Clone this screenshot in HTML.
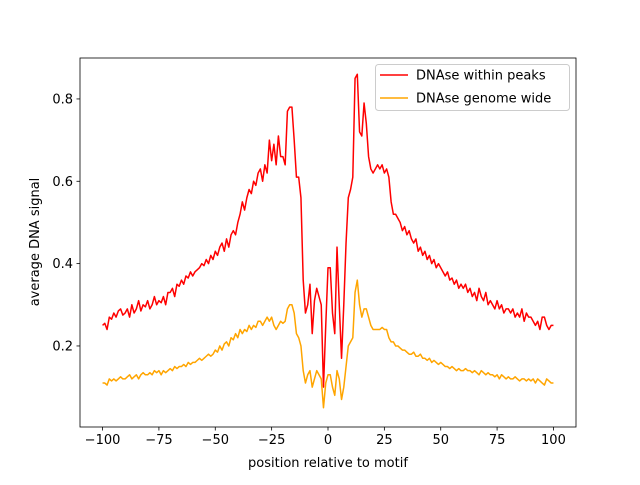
<!DOCTYPE html>
<html><head><meta charset="utf-8"><style>
body{margin:0;background:#fff}
svg text{font-family:"DejaVu Sans","Liberation Sans",sans-serif;font-size:13px;fill:#000}
</style></head><body>
<svg id="chart" width="640" height="480">
<rect width="640" height="480" fill="#fff"/>
<g id="plot"></g>
</svg>
<script>
const xTicks=[-100,-75,-50,-25,0,25,50,75,100];
const yTicks=[0.2,0.4,0.6,0.8];
const withinPeaks=[.25,.255,.24,.27,.265,.28,.27,.285,.29,.275,
.28,.29,.27,.30,.28,.29,.31,.285,.30,.295,
.31,.29,.30,.32,.30,.31,.305,.32,.30,.33,
.33,.34,.32,.35,.345,.36,.35,.37,.365,.38,
.37,.38,.385,.39,.40,.395,.41,.40,.42,.41,
.43,.42,.44,.45,.43,.46,.44,.47,.48,.47,
.50,.52,.55,.53,.56,.58,.57,.60,.59,.62,
.63,.60,.64,.62,.70,.65,.69,.64,.71,.66,
.66,.64,.77,.78,.78,.70,.61,.61,.56,.36,
.28,.30,.35,.23,.31,.34,.32,.30,.10,.25,
.39,.39,.28,.23,.44,.30,.17,.30,.45,.56,
.58,.61,.85,.86,.72,.71,.79,.74,.66,.63,
.62,.63,.64,.63,.64,.62,.63,.61,.55,.52,
.52,.51,.50,.48,.49,.47,.48,.46,.45,.46,
.43,.44,.42,.43,.41,.42,.40,.41,.39,.40,
.39,.38,.37,.38,.36,.365,.35,.36,.34,.35,
.34,.35,.33,.34,.32,.33,.31,.34,.32,.31,
.33,.30,.31,.30,.29,.31,.29,.30,.28,.29,
.29,.28,.29,.27,.28,.27,.29,.26,.28,.27,
.27,.26,.25,.26,.24,.27,.27,.25,.24,.25,.25];
const genomeWide=[.11,.11,.105,.12,.115,.12,.115,.12,.125,.12,
.12,.125,.13,.12,.125,.13,.12,.13,.135,.13,
.13,.135,.13,.14,.135,.14,.13,.14,.135,.14,
.145,.14,.15,.145,.15,.15,.155,.15,.16,.155,
.16,.16,.165,.17,.165,.17,.175,.18,.175,.18,
.19,.185,.20,.19,.205,.21,.20,.22,.215,.23,
.22,.24,.23,.24,.235,.25,.24,.25,.245,.26,
.26,.25,.26,.27,.26,.27,.25,.24,.25,.26,
.255,.26,.29,.30,.30,.28,.23,.22,.20,.14,
.11,.13,.14,.10,.12,.14,.13,.12,.05,.11,
.13,.13,.10,.08,.14,.12,.07,.10,.15,.20,
.21,.22,.33,.36,.30,.27,.29,.29,.27,.25,
.24,.24,.24,.24,.245,.24,.24,.22,.21,.21,
.20,.20,.195,.19,.19,.185,.18,.18,.185,.175,
.175,.18,.17,.17,.165,.17,.16,.165,.16,.155,
.16,.155,.15,.15,.145,.15,.145,.14,.145,.14,
.14,.145,.14,.14,.135,.14,.135,.13,.14,.135,
.13,.135,.13,.13,.125,.13,.12,.13,.125,.12,
.125,.12,.12,.125,.12,.115,.12,.12,.115,.12,
.115,.12,.11,.12,.115,.11,.105,.12,.115,.11,.11];
const xStart=-100;
const L=80,R=576,T=58,B=427;
const X=v=>L+(v+110)/220*(R-L);
const Y=v=>428.3-v*411.7;
const NS="http://www.w3.org/2000/svg";
const g=document.getElementById('plot');
function mk(tag,attrs,parent){const e=document.createElementNS(NS,tag);for(const k in attrs)e.setAttribute(k,attrs[k]);(parent||g).appendChild(e);return e;}
function series(arr,color,name){
  const pts=arr.map((v,i)=>X(xStart+i).toFixed(2)+','+Y(v).toFixed(2)).join(' ');
  const p=mk('polyline',{points:pts,fill:'none',stroke:color,'stroke-width':1.5,'stroke-linejoin':'round'});
  
  
}
series(withinPeaks,'#ff0000','line-within-peaks');
series(genomeWide,'#ffa500','line-genome-wide');
const frame=mk('rect',{x:L,y:T,width:R-L,height:B-T,fill:'none',stroke:'#000','stroke-width':0.8});


xTicks.forEach(t=>{
  mk('line',{x1:X(t),x2:X(t),y1:B,y2:B+3.5,stroke:'#000','stroke-width':0.8});
  const tx=mk('text',{x:X(t),y:B+17,'text-anchor':'middle'});tx.textContent=(t<0?'\u2212'+(-t):t);
  
  
});
yTicks.forEach(t=>{
  mk('line',{x1:L-3.5,x2:L,y1:Y(t),y2:Y(t),stroke:'#000','stroke-width':0.8});
  const tx=mk('text',{x:L-7,y:Y(t)+4.5,'text-anchor':'end'});tx.textContent=t.toFixed(1);
  
  
});
const xt=mk('text',{x:(L+R)/2,y:467,'text-anchor':'middle'});xt.textContent='position relative to motif';


const yt=mk('text',{x:0,y:0,'text-anchor':'middle',transform:'translate(39,242) rotate(-90)'});yt.textContent='average DNA signal';


const lg=mk('g',{});


mk('rect',{x:375.5,y:64.5,width:194,height:46,rx:3,fill:'#fff','fill-opacity':0.8,stroke:'#ccc'},lg);
[['DNAse within peaks','#ff0000',75],['DNAse genome wide','#ffa500',98]].forEach(([lab,c,y])=>{
  mk('line',{x1:380,x2:408,y1:y,y2:y,stroke:c,'stroke-width':1.5},lg);
  const t=mk('text',{x:416,y:y+4.5},lg);t.textContent=lab;
  
  
});
</script>
</body></html>
